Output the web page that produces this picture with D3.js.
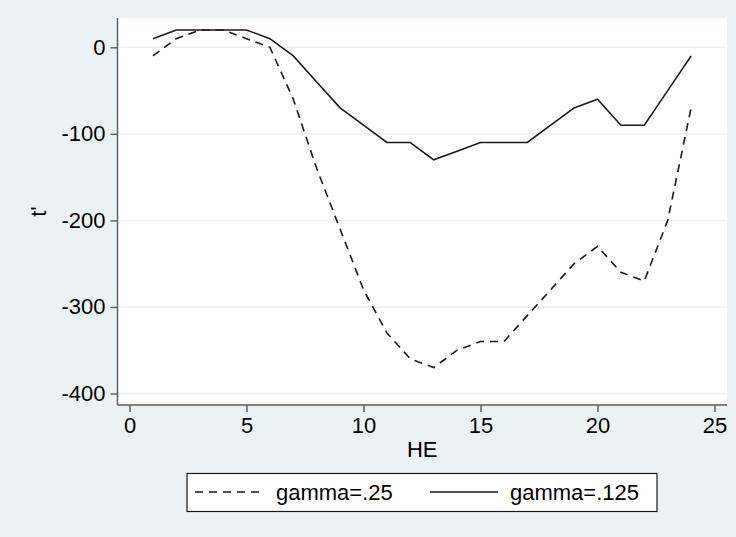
<!DOCTYPE html>
<meta charset="utf-8">
<style type="text/css">

body {
  margin: 0;
  background-color: #eaf2f3;
}

svg {
  display: block;
  font-family: "Liberation Sans", Arial, sans-serif;
}

.serie {
  fill: none;
  stroke: #1a1a1a;
  stroke-width: 1.6;
}

.dashed {
  stroke-dasharray: 8, 6;
}

.grid line {
  stroke: #eaf2f3;
  stroke-width: 1.5;
}

.axis path, .axis line {
  stroke: #5a5a5a;
  stroke-width: 1.4;
}

.axis text {
  font-size: 22px;
  fill: #000;
}

</style>
<svg width="736" height="537"></svg>
<script src="https://cdnjs.cloudflare.com/ajax/libs/d3/7.8.5/d3.min.js"></script>
<script>

// HE values and the two series
var he = [1, 2, 3, 4, 5, 6, 7, 8, 9, 10, 11, 12, 13, 14, 15, 16, 17, 18, 19, 20, 21, 22, 23, 24];
var gamma25  = [-10, 10, 20, 20, 10, 0, -60, -140, -210, -280, -330, -360, -370, -350, -340, -340, -310, -280, -250, -230, -260, -270, -200, -70];
var gamma125 = [10, 20, 20, 20, 20, 10, -10, -40, -70, -90, -110, -110, -130, -120, -110, -110, -110, -90, -70, -60, -90, -90, -50, -10];

var xTicks = [0, 5, 10, 15, 20, 25];
var yTicks = [0, -100, -200, -300, -400];

var seriesNames = ["gamma=.25", "gamma=.125"];

var svg = d3.select("svg"),
    width = +svg.attr("width"),
    height = +svg.attr("height");

svg.append("rect")
   .attr("width", width).attr("height", height)
   .attr("fill", "#eaf2f3");

// plot region
var box = {left: 117.5, right: 727, top: 18, bottom: 405};

var x = d3.scaleLinear().domain([0, 25]).range([129.5, 714.5]);
var y = d3.scaleLinear().domain([-400, 0]).range([393.5, 47.3]);

svg.append("rect")
   .attr("x", box.left).attr("y", box.top)
   .attr("width", box.right - box.left).attr("height", box.bottom - box.top)
   .attr("fill", "#fff");

// horizontal grid
svg.append("g").attr("class", "grid")
   .selectAll("line").data(yTicks).enter().append("line")
   .attr("x1", box.left).attr("x2", box.right)
   .attr("y1", function(d){ return y(d); })
   .attr("y2", function(d){ return y(d); });

// axes
var xAxis = d3.axisBottom(x).tickValues(xTicks).tickSize(7).tickPadding(5).tickSizeOuter(0);
var yAxis = d3.axisLeft(y).tickValues(yTicks).tickSize(7).tickPadding(5).tickSizeOuter(0);

var gx = svg.append("g").attr("class", "axis")
   .attr("transform", "translate(0," + box.bottom + ")")
   .call(xAxis);
gx.select(".domain").attr("d", "M" + box.left + ",0H" + box.right);

var gy = svg.append("g").attr("class", "axis")
   .attr("transform", "translate(" + box.left + ",0)")
   .call(yAxis);
gy.select(".domain").attr("d", "M0," + box.top + "V" + box.bottom);
gy.selectAll("text").text(function(d){ return d < 0 ? "-" + Math.abs(d) : d; });

// axis titles
svg.append("text")
   .attr("x", (box.left + box.right) / 2).attr("y", 457)
   .attr("text-anchor", "middle")
   .attr("font-size", "22px")
   .text("HE");

svg.append("text")
   .attr("transform", "translate(46," + ((box.top + box.bottom) / 2) + ") rotate(-90)")
   .attr("text-anchor", "middle")
   .attr("font-size", "22px")
   .text("t'");

// lines
var line = d3.line()
   .x(function(d){ return x(d[0]); })
   .y(function(d){ return y(d[1]); });

svg.append("path").attr("class", "serie dashed")
   .attr("d", line(d3.zip(he, gamma25)));

svg.append("path").attr("class", "serie")
   .attr("d", line(d3.zip(he, gamma125)));

// legend
var lg = svg.append("g");
lg.append("rect")
  .attr("x", 187).attr("y", 473.5)
  .attr("width", 470).attr("height", 38)
  .attr("fill", "#fff").attr("stroke", "#1a1a1a").attr("stroke-width", 1.2);

var items = [
  {name: seriesNames[0], cls: "serie dashed", x0: 195, x1: 265, tx: 276},
  {name: seriesNames[1], cls: "serie", x0: 430, x1: 498, tx: 510}
];

var it = lg.selectAll(".item").data(items).enter().append("g");
it.append("line")
  .attr("class", function(d){ return d.cls; })
  .attr("x1", function(d){ return d.x0; }).attr("x2", function(d){ return d.x1; })
  .attr("y1", 492).attr("y2", 492);
it.append("text")
  .attr("x", function(d){ return d.tx; }).attr("y", 500)
  .attr("font-size", "22px")
  .text(function(d){ return d.name; });

</script>
